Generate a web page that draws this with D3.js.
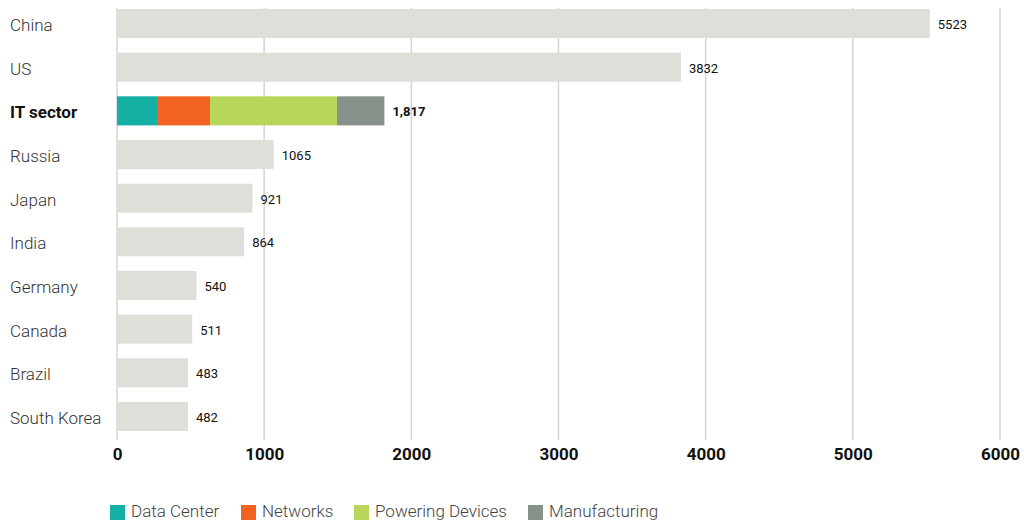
<!DOCTYPE html>
<html><head><meta charset="utf-8">
<script src="https://cdn.jsdelivr.net/npm/d3@7"></script>
<style>body{margin:0;background:#fff;}svg{display:block;font-family:Roboto,"Noto Sans",sans-serif;}</style>
</head><body>
<svg id="c" width="1024" height="528"></svg>
<script>
const categories = ["China","US","IT sector","Russia","Japan","India","Germany","Canada","Brazil","South Korea"];
const values = [5523,3832,1817,1065,921,864,540,511,483,482];
const valueLabels = ["5523","3832","1,817","1065","921","864","540","511","483","482"];
const segmentNames = ["Data Center","Networks","Powering Devices","Manufacturing"];
const segmentValues = [278,354,863,322];
const segmentColors = ["#14b0a4","#f26323","#b7d65a","#86918a"];
const ticks = [0,1000,2000,3000,4000,5000,6000];

const svg = d3.select("#c");
const x = d3.scaleLinear().domain([0,6000]).range([117,1000]);
const y = d3.scaleBand().domain(categories).range([9,431]).paddingInner(0.334).paddingOuter(0);

// gridlines
svg.append("g").selectAll("line").data(ticks).join("line")
  .attr("x1",d=>x(d)).attr("x2",d=>x(d)).attr("y1",8).attr("y2",440)
  .attr("stroke","#d5d5d5").attr("stroke-width",1.5);

// axis labels
const ax = svg.append("g").attr("transform","translate(0,440)")
  .call(d3.axisBottom(x).tickValues(ticks).tickSize(0).tickPadding(8).tickFormat(d3.format("d")));
ax.select(".domain").remove();
ax.selectAll("text").attr("font-family","Roboto").attr("font-size",17).attr("font-weight",700).attr("fill","#111");

// bars
const bars = categories.map((c,i)=>({c, v:values[i], label:valueLabels[i]}));
svg.append("g").selectAll("rect").data(bars.filter(d=>d.c!=="IT sector")).join("rect")
  .attr("x",x(0)).attr("y",d=>y(d.c)).attr("width",d=>x(d.v)-x(0)).attr("height",y.bandwidth())
  .attr("fill","#dfdfda");

// stacked IT sector
let acc = 0;
const segs = segmentValues.map((v,i)=>{const s={name:segmentNames[i],x0:acc,x1:acc+v,color:segmentColors[i]};acc+=v;return s;});
svg.append("g").selectAll("rect").data(segs).join("rect")
  .attr("x",d=>x(d.x0)).attr("y",y("IT sector")).attr("width",d=>x(d.x1)-x(d.x0)).attr("height",y.bandwidth())
  .attr("fill",d=>d.color);

// value labels
svg.append("g").selectAll("text").data(bars).join("text")
  .attr("x",d=>x(d.c==="IT sector"?acc:d.v)+8).attr("y",d=>y(d.c)+y.bandwidth()/2+2)
  .attr("dominant-baseline","middle")
  .attr("font-size",13).attr("font-weight",d=>d.c==="IT sector"?700:400).attr("fill","#111")
  .text(d=>d.label);

// category labels
svg.append("g").selectAll("text").data(categories).join("text")
  .attr("x",10).attr("y",d=>y(d)+y.bandwidth()/2+3)
  .attr("dominant-baseline","middle")
  .attr("font-size",17)
  .attr("font-weight",d=>d==="IT sector"?700:300)
  .attr("fill",d=>d==="IT sector"?"#111":"#333")
  .text(d=>d);

// legend
const legX = [110,241,354,528];
const lg = svg.append("g").selectAll("g").data(segmentNames).join("g")
  .attr("transform",(d,i)=>`translate(${legX[i]},505)`);
lg.append("rect").attr("width",15).attr("height",15).attr("fill",(d,i)=>segmentColors[i]);
lg.append("text").attr("x",21).attr("y",8).attr("dominant-baseline","middle")
  .attr("font-size",17).attr("font-weight",300).attr("fill","#444").text(d=>d);
</script>
</body></html>
